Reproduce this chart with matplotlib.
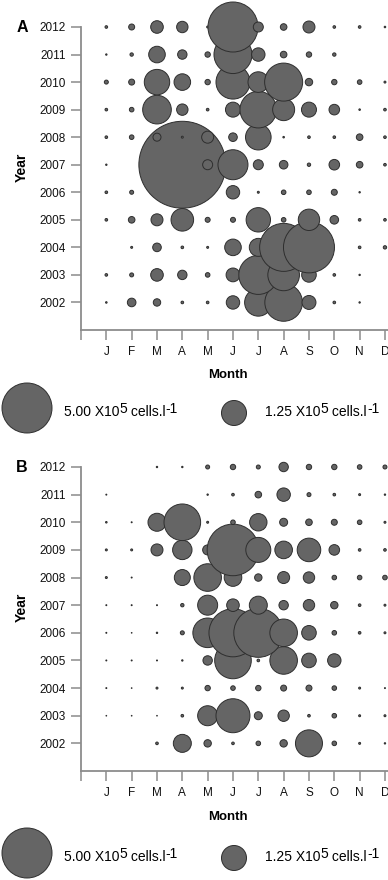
import matplotlib
matplotlib.use('Agg')
import matplotlib.pyplot as plt
import numpy as np

plt.rcParams['font.family'] = ['Liberation Sans', 'DejaVu Sans']

# ---------------- data ----------------
months = ['J', 'F', 'M', 'A', 'M', 'J', 'J', 'A', 'S', 'O', 'N', 'D']
years = list(range(2002, 2013))

# cell densities in 10^5 cells.l-1 ; rows = years 2002..2012, columns = Jan..Dec (0 = no mark)
panel_a = [
    [0.005, 0.148, 0.110, 0.014, 0.014, 0.360, 1.500, 2.830, 0.390, 0.014, 0.004, 0.0],    # 2002
    [0.014, 0.032, 0.318, 0.177, 0.042, 0.380, 3.040, 2.000, 0.426, 0.014, 0.004, 0.0],    # 2003
    [0.0,   0.008, 0.148, 0.014, 0.008, 0.550, 0.650, 4.610, 5.200, 0.0,   0.014, 0.023],  # 2004
    [0.014, 0.087, 0.288, 1.020, 0.050, 0.050, 1.190, 0.042, 0.916, 0.148, 0.014, 0.014],  # 2005
    [0.014, 0.032, 0.100, 0.200, 0.0,   0.360, 0.008, 0.042, 0.042, 0.072, 0.004, 0.0],    # 2006
    [0.004, 0.0,   0.050, 15.10, 0.200, 1.800, 0.200, 0.148, 0.023, 0.225, 0.087, 0.014],  # 2007
    [0.014, 0.042, 0.128, 0.008, 0.288, 0.148, 1.310, 0.005, 0.014, 0.014, 0.087, 0.014],  # 2008
    [0.014, 0.042, 1.640, 0.260, 0.014, 0.450, 2.680, 0.968, 0.450, 0.225, 0.005, 0.014],  # 2009
    [0.032, 0.072, 1.290, 0.550, 0.058, 2.310, 0.850, 2.890, 0.110, 0.058, 0.042, 0.008],  # 2010
    [0.004, 0.023, 0.550, 0.177, 0.058, 2.890, 0.360, 0.087, 0.058, 0.023, 0.0,   0.0],    # 2011
    [0.014, 0.072, 0.318, 0.260, 0.008, 5.000, 0.200, 0.087, 0.288, 0.014, 0.014, 0.005],  # 2012
]

panel_b = [
    [0.0,   0.0,   0.014, 0.648, 0.110, 0.014, 0.042, 0.110, 1.460, 0.042, 0.008, 0.004],  # 2002
    [0.001, 0.001, 0.001, 0.014, 0.800, 2.310, 0.128, 0.260, 0.014, 0.042, 0.008, 0.008],  # 2003
    [0.002, 0.001, 0.008, 0.008, 0.058, 0.042, 0.058, 0.072, 0.072, 0.042, 0.008, 0.002],  # 2004
    [0.002, 0.002, 0.002, 0.004, 0.177, 2.680, 0.014, 1.520, 0.426, 0.360, 0.0,   0.0],    # 2005
    [0.002, 0.001, 0.004, 0.032, 1.750, 4.610, 4.800, 1.520, 0.426, 0.042, 0.014, 0.008],  # 2006
    [0.002, 0.002, 0.002, 0.023, 0.800, 0.318, 0.648, 0.177, 0.260, 0.110, 0.014, 0.008],  # 2007
    [0.008, 0.002, 0.0,   0.512, 1.520, 0.620, 0.110, 0.288, 0.260, 0.042, 0.042, 0.042],  # 2008
    [0.008, 0.008, 0.288, 0.753, 0.200, 5.330, 1.250, 0.620, 1.110, 0.225, 0.014, 0.014],  # 2009
    [0.005, 0.002, 0.648, 2.680, 0.008, 0.042, 0.605, 0.128, 0.087, 0.072, 0.042, 0.008],  # 2010
    [0.002, 0.0,   0.0,   0.0,   0.004, 0.014, 0.087, 0.360, 0.032, 0.014, 0.008, 0.004],  # 2011
    [0.0,   0.0,   0.004, 0.004, 0.032, 0.058, 0.032, 0.177, 0.058, 0.058, 0.042, 0.032],  # 2012
]

legend_values = [5.00, 1.25]
legend_texts = ['5.00', '1.25']

# ---------------- style / layout ----------------
DPI = 100
W, H = 388, 880
S_PER_UNIT = 259.2          # marker area (pt^2) per 1e5 cells.l-1
FACE = '#656565'
EDGE = '#2e2e2e'
AXC = '#8c8c8c'

fig = plt.figure(figsize=(W / DPI, H / DPI), dpi=DPI)


def px_rect(x0, y_top, x1, y_bot):
    return [x0 / W, 1 - y_bot / H, (x1 - x0) / W, (y_bot - y_top) / H]


panels = [
    dict(letter='A', values=panel_a, top=27, bottom=330, leg_y=412),
    dict(letter='B', values=panel_b, top=467, bottom=771, leg_y=857),
]

ov = fig.add_axes([0, 0, 1, 1])
ov.set_xlim(0, W)
ov.set_ylim(H, 0)
ov.axis('off')
ov.patch.set_visible(False)

for p in panels:
    ax = fig.add_axes(px_rect(81, p['top'], 388, p['bottom']))
    vals = np.array(p['values'], dtype=float)
    mm, yy = np.meshgrid(np.arange(1, 13), years)
    mask = vals > 0
    ax.scatter(mm[mask], yy[mask], s=vals[mask] * S_PER_UNIT, c=FACE,
               edgecolors=EDGE, linewidths=0.7, clip_on=False, zorder=3)
    ax.set_xlim(0, 12.12)
    ax.set_ylim(2001, 2012)
    for s in ['top', 'right']:
        ax.spines[s].set_visible(False)
    for s in ['left', 'bottom']:
        ax.spines[s].set_color(AXC)
        ax.spines[s].set_linewidth(1.3)
    ax.set_xticks(range(13))
    ax.set_xticklabels([''] + months)
    ax.set_yticks(years)
    ax.set_yticklabels([str(y) for y in years])
    ax.tick_params(axis='both', direction='out', length=7, width=1.1,
                   color=AXC, labelsize=8.5, labelcolor='#111111')
    ax.tick_params(axis='y', pad=4)
    ax.tick_params(axis='x', pad=4.5)
    ax.set_xlabel('Month', fontsize=9.5, fontweight='bold')
    ax.set_ylabel('Year', fontsize=10, fontweight='bold')
    ax.xaxis.label.set_va('center')
    ax.yaxis.label.set_va('center')
    ax.xaxis.set_label_coords(0.479, -0.150)
    ax.yaxis.set_label_coords(-0.192, 0.538)
    ax.patch.set_visible(False)

    # panel letter
    ov.text(22, p['top'], p['letter'], fontsize=11.5, fontweight='bold',
            ha='center', va='center')

    # size legend
    ly = p['leg_y']
    ov.scatter([27, 234], [ly - 4, ly + 1], s=np.array(legend_values) * S_PER_UNIT,
               c=FACE, edgecolors=EDGE, linewidths=0.7, clip_on=False)
    for tx, lab in zip([64, 265], legend_texts):
        t1 = ov.text(tx, ly, lab + ' X10', fontsize=10, ha='left', va='center')
        t2 = ov.annotate('5', xy=(1, 0), xycoords=t1, xytext=(0, 2.2),
                         textcoords='offset points', fontsize=10, ha='left', va='bottom')
        t3 = ov.annotate(' cells.l', xy=(1, 0), xycoords=t2, xytext=(0, -2.2),
                         textcoords='offset points', fontsize=10, ha='left', va='bottom')
        ov.annotate('-1', xy=(1, 0), xycoords=t3, xytext=(0, 2.2),
                    textcoords='offset points', fontsize=10, ha='left', va='bottom')

fig.savefig('out.png', dpi=DPI)
